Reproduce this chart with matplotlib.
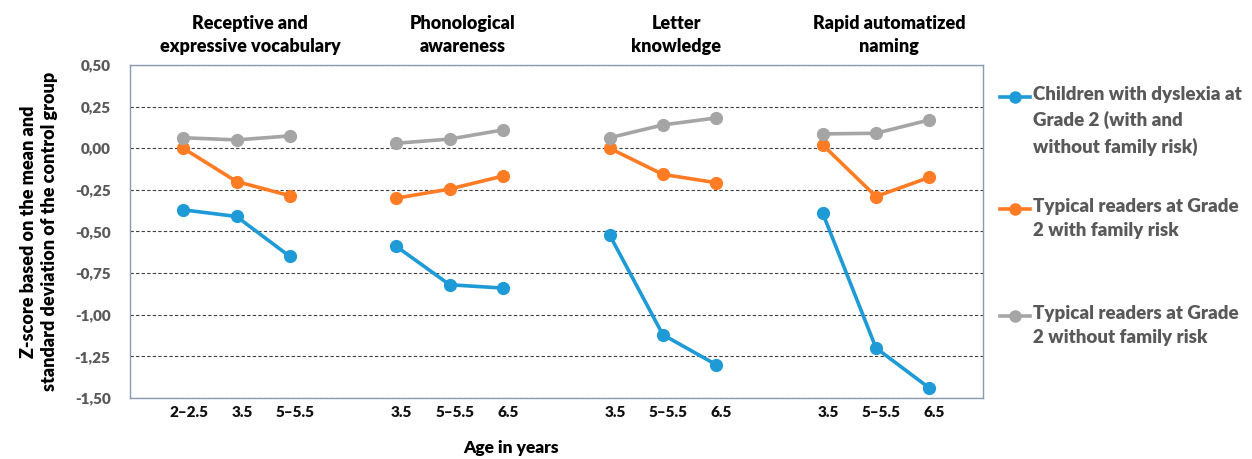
import matplotlib.pyplot as plt
from matplotlib.lines import Line2D

plt.rcParams['font.family'] = ['Lato', 'DejaVu Sans']

# data
groups = ["Receptive and\nexpressive vocabulary", "Phonological\nawareness",
          "Letter\nknowledge", "Rapid automatized\nnaming"]
ages = [["2\u20132.5", "3.5", "5\u20135.5"],
        ["3.5", "5\u20135.5", "6.5"],
        ["3.5", "5\u20135.5", "6.5"],
        ["3.5", "5\u20135.5", "6.5"]]

dyslexia = [[-0.37, -0.41, -0.65], [-0.59, -0.82, -0.84],
            [-0.52, -1.12, -1.30], [-0.39, -1.20, -1.44]]
typical_fr = [[0.00, -0.20, -0.285], [-0.30, -0.245, -0.167],
              [0.00, -0.157, -0.207], [0.02, -0.29, -0.175]]
typical_nofr = [[0.063, 0.05, 0.074], [0.03, 0.055, 0.11],
                [0.063, 0.14, 0.182], [0.086, 0.09, 0.17]]

series = [dyslexia, typical_fr, typical_nofr]
labels = ["Children with dyslexia at\nGrade 2 (with and\nwithout family risk)",
          "Typical readers at Grade\n2 with family risk",
          "Typical readers at Grade\n2 without family risk"]
colors = ['#1E9AD6', '#FF7C25', '#A5A5A5']

fig = plt.figure(figsize=(12.52, 4.59), dpi=100)
ax = fig.add_axes([0.1038, 0.133, 0.681, 0.7254])

# each group takes 3 slots plus an empty slot between groups
xpos = [[4 * g + 1 + i for i in range(3)] for g in range(4)]

for data, color in zip(series, colors):
    for g in range(4):
        ax.plot(xpos[g], data[g], color=color, lw=2.6, marker='o', ms=8.5,
                solid_capstyle='round', zorder=3)

ax.set_xlim(0, 16)
ax.set_ylim(-1.5, 0.5)
yt = [0.5 - 0.25 * i for i in range(9)]
ax.set_yticks(yt)
ax.set_yticklabels([f"{v:.2f}".replace('.', ',') for v in yt],
                   fontsize=11, fontweight='heavy', color='#595959')
ax.yaxis.grid(True, linestyle=(0, (3, 2)), color='#404040', lw=0.8)
ax.tick_params(axis='y', length=0, pad=14)

xt = [x for row in xpos for x in row]
ax.set_xticks([x + 0.1 for x in xt])
ax.set_xticklabels([a for row in ages for a in row], fontsize=11,
                   fontweight='heavy', color='#111111')
ax.tick_params(axis='x', length=0, pad=6)

for s in ax.spines.values():
    s.set_color('#8A9BB0')
    s.set_linewidth(1.0)

for g, title in enumerate(groups):
    ax.text(xpos[g][1] + 0.25, 1.03, title, transform=ax.get_xaxis_transform(),
            ha='center', va='bottom', fontsize=13, fontweight='heavy',
            linespacing=1.45)

ax.set_ylabel("Z-score based on the mean and\nstandard deviation of the control group",
              fontsize=13, fontweight='heavy', labelpad=12, linespacing=1.3)
ax.set_xlabel("Age in years", fontsize=12.5, fontweight='heavy')
ax.xaxis.set_label_coords(0.447, -0.125)

# legend drawn to the right of the plot
leg_y = [97, 209, 316]
for lab, color, y in zip(labels, colors, leg_y):
    yf = 1 - y / 459
    fig.add_artist(Line2D([1000 / 1252, 1030 / 1252], [yf, yf], color=color,
                          lw=2.6, transform=fig.transFigure))
    fig.add_artist(Line2D([1015 / 1252], [yf], color=color, marker='o', ms=8,
                          transform=fig.transFigure))
    fig.text(1033 / 1252, yf + 0.025, lab, ha='left', va='top', fontsize=13.5,
             fontweight='heavy', color='#595959', linespacing=1.55)

fig.savefig('out.png', dpi=100)
